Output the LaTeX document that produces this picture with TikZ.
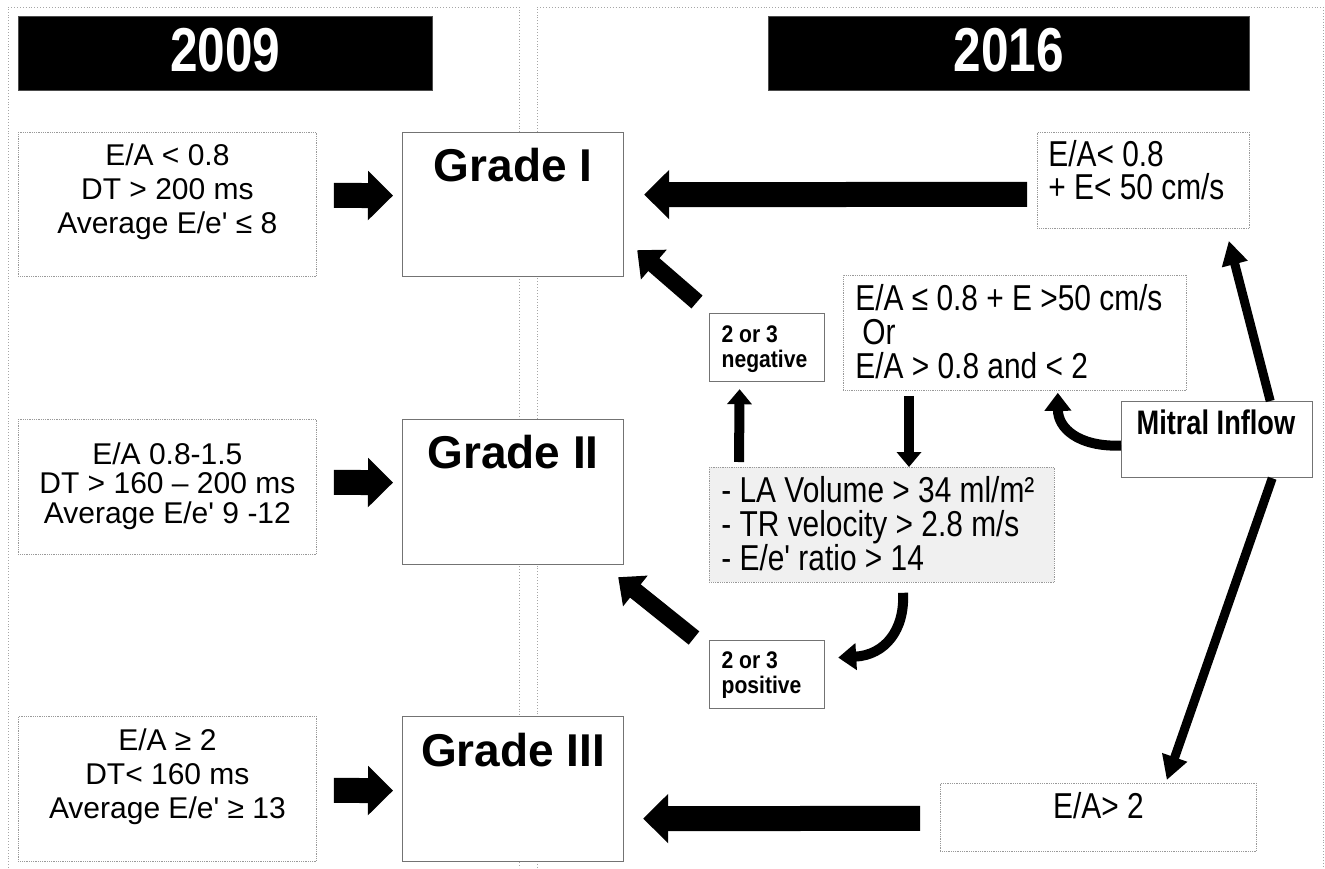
\documentclass[tikz,border=0pt]{standalone}
\usepackage{fontspec}
\newfontfamily\arial{Liberation Sans}
\newfontfamily\narrow[FakeStretch=0.83]{Liberation Sans}
\newfontfamily\narrowb[FakeStretch=0.8]{Liberation Sans}
\newfontfamily\narrowc[FakeStretch=0.88]{Liberation Sans}
\usetikzlibrary{arrows.meta,calc}
\newcommand{\bxt}[5]{\parbox[c][#2][t]{#1}{#3\rule{0pt}{#4}#5}}
\tikzset{
  panel/.style={draw=black!35, dotted, line width=0.9pt},
  dotbox/.style={draw=black!40, densely dotted, line width=0.8pt, fill=white, inner sep=0pt, anchor=north west},
  solidbox/.style={draw=black!55, line width=1.2pt, fill=white, inner sep=0pt, anchor=north west},
  greybox/.style={dotbox, fill=black!6},
  titlebar/.style={fill=black, draw=black!70, text=white, inner sep=0pt, anchor=north west},
  bigarrow/.style={line width=25pt, -{Triangle[length=25pt,width=48pt]}},
  diagarrow/.style={line width=17pt, -{Triangle[length=22pt,width=38pt]}},
  thinarrow/.style={line width=10pt, -{Triangle[length=15pt,width=24pt]}},
  longarrow/.style={line width=9pt, -{Triangle[length=24pt,width=25pt]}},
  curvearrow/.style={line width=10pt, -{Triangle[length=18pt,width=26pt]}}
}
\begin{document}
\begin{tikzpicture}[x=1pt,y=-1pt]
\useasboundingbox (0,0) rectangle (1325,868);
% panels
\draw[panel] (8,868) -- (8,7) -- (519,7) -- (519,868);
\draw[panel] (537,868) -- (537,7) -- (1323,7) -- (1323,868);
% title bars
\node[titlebar] (t09) at (18,16) {\bxt{414pt}{74pt}{\centering\narrowb\bfseries\fontsize{62}{66}\selectfont}{55pt}{2009}};
\node[titlebar] (t16) at (768,16) {\bxt{481pt}{74pt}{\centering\narrowb\bfseries\fontsize{62}{66}\selectfont}{55pt}{2016}};
% 2009 criteria
\node[dotbox] (l1) at (18,132) {\bxt{298pt}{144pt}{\centering\arial\fontsize{30}{34}\selectfont}{33pt}{E/A < 0.8\\DT > 200 ms\\Average E/e' ≤ 8}};
\node[dotbox] (l2) at (18,419) {\bxt{298pt}{135pt}{\centering\arial\fontsize{30}{29.5}\selectfont}{45pt}{E/A 0.8-1.5\\DT > 160 – 200 ms\\Average E/e' 9 -12}};
\node[dotbox] (l3) at (18,716) {\bxt{298pt}{145pt}{\centering\arial\fontsize{30}{34}\selectfont}{34pt}{E/A ≥ 2\\DT< 160 ms\\Average E/e' ≥ 13}};
% grades
\node[solidbox] (g1) at (402,132) {\bxt{221pt}{144pt}{\centering\arial\bfseries\fontsize{46}{50}\selectfont}{49pt}{Grade I}};
\node[solidbox] (g2) at (402,419) {\bxt{221pt}{145pt}{\centering\arial\bfseries\fontsize{46}{50}\selectfont}{49pt}{Grade II}};
\node[solidbox] (g3) at (402,716) {\bxt{221pt}{145pt}{\centering\arial\bfseries\fontsize{46}{50}\selectfont}{50pt}{Grade III}};
% 2016 boxes
\node[dotbox] (r1) at (1037,132) {\bxt{212pt}{96pt}{\raggedright\leftskip=11pt\relax\narrow\fontsize{36}{33}\selectfont}{34pt}{E/A< 0.8\\+ E< 50 cm/s}};
\node[dotbox] (orb) at (843,275) {\bxt{343pt}{115pt}{\raggedright\leftskip=12pt\relax\narrow\fontsize{36}{34}\selectfont}{35pt}{E/A ≤ 0.8 + E >50 cm/s\\\hspace*{7pt}Or\\E/A > 0.8 and < 2}};
\node[greybox] (grey) at (709,467) {\bxt{345pt}{115pt}{\raggedright\leftskip=12pt\relax\narrow\fontsize{36}{34}\selectfont}{35pt}{- LA Volume > 34 ml/m²\\- TR velocity > 2.8 m/s\\- E/e' ratio > 14}};
\node[solidbox] (neg) at (709,313) {\bxt{115pt}{68pt}{\raggedright\leftskip=12pt\relax\narrowc\bfseries\fontsize{24}{25}\selectfont}{29pt}{2 or 3\\negative}};
\node[solidbox] (pos) at (709,640) {\bxt{115pt}{68pt}{\raggedright\leftskip=12pt\relax\narrowc\bfseries\fontsize{24}{25}\selectfont}{28pt}{2 or 3\\positive}};
\node[solidbox] (mit) at (1121,401) {\bxt{191pt}{76pt}{\raggedright\leftskip=15pt\relax\narrowb\bfseries\fontsize{34}{34}\selectfont}{33pt}{Mitral Inflow}};
\node[dotbox] (r3) at (940,783) {\bxt{316pt}{68pt}{\centering\narrow\fontsize{36}{34}\selectfont}{35pt}{E/A> 2}};
% 2009 arrows
\draw[bigarrow] ([shift={(17,-9)}]l1.east) -- ([shift={(-9,-9)}]g1.west);
\draw[bigarrow] ([shift={(17,-4.5)}]l2.east) -- ([shift={(-9,-9.5)}]g2.west);
\draw[bigarrow] ([shift={(17,1.5)}]l3.east) -- ([shift={(-9,1.5)}]g3.west);
% 2016 arrows
\draw[bigarrow] ([shift={(-10,14)}]r1.west) -- ([shift={(20,-10)}]g1.east);
\draw[bigarrow] ([shift={(-20,1)}]r3.west) -- ([shift={(19,29.5)}]g3.east);
\draw[diagarrow] ([shift={(-12,-11)}]neg.north west) -- ([shift={(13,-27)}]g1.south east);
\draw[diagarrow] ([shift={(-15,-2)}]pos.north west) -- ([shift={(-6,12)}]g2.south east);
\draw[thinarrow] ([shift={(30,-5)}]grey.north west) -- ([shift={(-27.5,7)}]neg.south);
\draw[thinarrow] ([shift={(66,5)}]orb.south west) -- ([shift={(200,0)}]grey.north west);
\draw[curvearrow] ([shift={(194,10)}]grey.south west) .. controls (905,630) and (885,655) .. ([shift={(13,-17)}]pos.east);
\draw[curvearrow] ([shift={(0,6)}]mit.west) .. controls (1078,447) and (1058,428) .. ([shift={(-129,2)}]orb.south east);
\draw[longarrow] ([shift={(-43,0)}]mit.north east) -- ([shift={(-21,12)}]r1.south east);
\draw[longarrow] ([shift={(-41,0)}]mit.south east) -- ([shift={(-90,-3)}]r3.north east);
\end{tikzpicture}
\end{document}
